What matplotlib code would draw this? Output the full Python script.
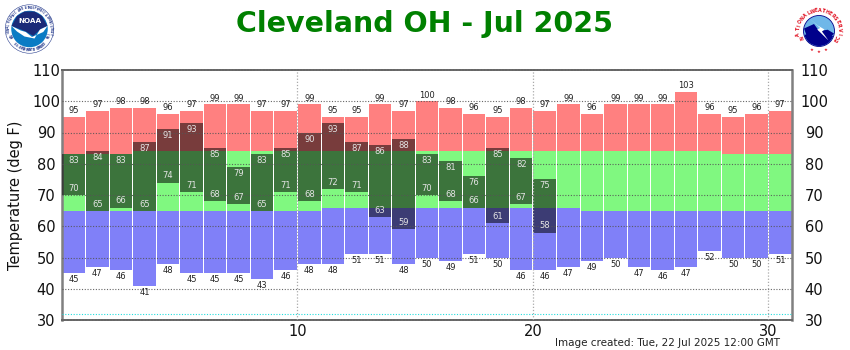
import numpy as np
import matplotlib
matplotlib.use("Agg")
import matplotlib.pyplot as plt
from matplotlib.patches import Circle, Polygon, Wedge

days = list(range(1, 32))
record_high = [95, 97, 98, 98, 96, 97, 99, 99, 97, 97, 99, 95, 95, 99, 97, 100, 98, 96, 95, 98, 97,
               99, 96, 99, 99, 99, 103, 96, 95, 96, 97]
record_low = [45, 47, 46, 41, 48, 45, 45, 45, 43, 46, 48, 48, 51, 51, 48, 50, 49, 51, 50, 46, 46,
              47, 49, 50, 47, 46, 47, 52, 50, 50, 51]
normal_high = [83, 83, 83, 84, 84, 84, 84, 84, 84, 84, 84, 84, 84, 84, 84, 84, 84, 84, 84, 84, 84,
               84, 84, 84, 84, 84, 84, 84, 83, 83, 83]
normal_low = [65, 65, 65, 65, 65, 65, 65, 65, 65, 65, 65, 66, 66, 66, 66, 66, 66, 66, 66, 66, 66,
              66, 65, 65, 65, 65, 65, 65, 65, 65, 65]
actual_high = [83, 84, 83, 87, 91, 93, 85, 79, 83, 85, 90, 93, 87, 86, 88, 83, 81, 76, 85, 82, 75]
actual_low = [70, 65, 66, 65, 74, 71, 68, 67, 65, 71, 68, 72, 71, 63, 59, 70, 68, 66, 61, 67, 58]
y_ticks = [30, 40, 50, 60, 70, 80, 90, 100, 110]
x_ticks = [10, 20, 30]

W, H = 850, 350
fig = plt.figure(figsize=(W / 100, H / 100), dpi=100, facecolor="white")
plt.rcParams["font.family"] = "DejaVu Sans"
ax = fig.add_axes([62 / W, 30 / H, 730 / W, 250 / H])

left = np.array(days) - 1 + 0.02
bw = 0.96
rh, rl = np.array(record_high), np.array(record_low)
nh, nl = np.array(normal_high), np.array(normal_low)

ax.bar(left, rh - nh, bottom=nh, width=bw, align="edge", color="#FF8080", linewidth=0, zorder=2)
ax.bar(left, nh - nl, bottom=nl, width=bw, align="edge", color="#80F880", linewidth=0, zorder=2)
ax.bar(left, nl - rl, bottom=rl, width=bw, align="edge", color="#8080F8", linewidth=0, zorder=2)

n = len(actual_high)
ah, al = np.array(actual_high), np.array(actual_low)
ax.bar(left[:n], ah - al, bottom=al, width=bw, align="edge", color="#000000", alpha=0.53, linewidth=0, zorder=3)

# grid
for y in y_ticks[1:-1]:
    ax.axhline(y, color="#555555", lw=0.8, ls=(0, (1, 1.5)), zorder=4, alpha=0.9)
ax.axhline(32, color="#22DDDD", lw=0.8, ls=(0, (1, 1.5)), zorder=4)
for x in x_ticks:
    ax.axvline(x, color="#AAAAAA", lw=0.9, ls=(0, (1, 1.5)), zorder=4)

# value labels
lab = dict(ha="center", fontsize=6, zorder=6)
for d, v in zip(days, record_high):
    ax.annotate(str(v), (d - 0.5, v), xytext=(0, 1.2), textcoords="offset points", va="bottom", color="#222222", **lab)
for d, v in zip(days, record_low):
    ax.annotate(str(v), (d - 0.5, v), xytext=(0, -1.5), textcoords="offset points", va="top", color="#222222", **lab)
for d, v in zip(days, actual_high):
    ax.annotate(str(v), (d - 0.5, v), xytext=(0, -1.5), textcoords="offset points", va="top", color="#E4E4E4", **lab)
for d, v in zip(days, actual_low):
    ax.annotate(str(v), (d - 0.5, v), xytext=(0, 1.5), textcoords="offset points", va="bottom", color="#E4E4E4", **lab)

ax.set_xlim(0, 31)
ax.set_ylim(30, 110)
ax.set_xticks(x_ticks)
ax.set_yticks(y_ticks)
ax.tick_params(axis="y", length=0, labelsize=10.5, pad=11.5, labelcolor="#111111",
               left=False, right=False, labelleft=True, labelright=True)
ax.tick_params(axis="x", length=0, labelsize=10.5, pad=3, labelcolor="#111111")
for t in ax.yaxis.get_major_ticks():
    t.label1.set_ha("center")
    t.label2.set_ha("center")
    t.label2.set_x(1 + 6 / 730)
ax.set_ylabel("Temperature (deg F)", fontsize=10.5, color="#111111")
ax.yaxis.set_label_coords(-(62 - 23) / 730, 0.5)

ax.spines["left"].set(color="#808080", linewidth=1.8)
ax.spines["right"].set(color="#808080", linewidth=1.8)
ax.spines["top"].set(color="#666666", linewidth=1.4, linestyle=(0, (1, 0.6)))
ax.spines["bottom"].set(color="#666666", linewidth=1.4, linestyle=(0, (1, 0.6)))

fig.text(424 / W, 1 - 24 / H, "Cleveland OH - Jul 2025", color="#008000", fontsize=20.5,
         fontweight="bold", ha="center", va="center")
fig.text(780 / W, 1 - 342.5 / H, "Image created: Tue, 22 Jul 2025 12:00 GMT", color="#222222",
         fontsize=7.5, ha="right", va="center")


def ring_text(a, text, r, start, end, color, size):
    for ch, ang in zip(text, np.linspace(start, end, len(text))):
        a.text(r * np.cos(np.radians(ang)), r * np.sin(np.radians(ang)), ch, fontsize=size,
               color=color, ha="center", va="center", rotation=ang - 90 if np.sin(np.radians(ang)) > -0.2 else ang + 90,
               fontweight="bold")


def logo_axes(cx, cy, r):
    a = fig.add_axes([(cx - r) / W, 1 - (cy + r) / H, 2 * r / W, 2 * r / H])
    a.set_xlim(-1, 1)
    a.set_ylim(-1, 1)
    a.axis("off")
    return a


# NOAA emblem
a = logo_axes(29.5, 29, 25)
a.add_patch(Circle((0, 0), 0.97, fc="white", ec="#2A3F8F", lw=0.4))
a.add_patch(Circle((0, 0), 0.73, fc="#0A7BC4", ec="none"))
a.add_patch(Polygon([(-0.72, 0.12), (-0.5, 0.52), (-0.2, 0.7), (0.2, 0.7), (0.5, 0.52), (0.72, 0.12),
                     (0.45, 0.0), (0.15, -0.28), (-0.15, -0.1), (-0.4, 0.0)], fc="#1A2A78", ec="none"))
a.add_patch(Polygon([(-0.72, 0.12), (-0.35, -0.06), (-0.15, -0.12), (0.1, -0.32), (0.55, -0.12),
                     (0.72, 0.12), (0.42, -0.02), (0.2, -0.38), (-0.2, -0.3), (-0.5, -0.1)], fc="white", ec="none"))
a.text(0, 0.33, "NOAA", color="white", fontsize=5.2, fontweight="bold", ha="center", va="center")
ring_text(a, "NATIONAL OCEANIC AND ATMOSPHERIC ADMINISTRATION", 0.85, 205, -25, "#2A3F8F", 1.9)
ring_text(a, "U.S. DEPARTMENT OF COMMERCE", 0.85, 225, 315, "#2A3F8F", 1.9)

# NWS emblem
b = logo_axes(819, 31, 25)
b.add_patch(Circle((0, 0), 0.62, fc="#6FB7E8", ec="#00008B", lw=0.6))
b.add_patch(Wedge((0, 0), 0.6, 195, 340, fc="#00008B", ec="none"))
b.add_patch(Polygon([(-0.6, 0.1), (-0.2, 0.28), (0.0, 0.0), (0.35, 0.05), (0.6, -0.1), (0.3, -0.45), (-0.4, -0.45)],
                    fc="#00008B", ec="none"))
b.add_patch(Polygon([(-0.38, 0.5), (0.05, 0.12), (-0.07, 0.06), (0.38, -0.38), (0.12, -0.02), (0.22, 0.06), (-0.05, 0.22)],
                    fc="white", ec="none"))
ring_text(b, "NATIONAL", 0.82, 200, 118, "#E01020", 3.4)
ring_text(b, "WEATHER", 0.82, 108, 48, "#E01020", 3.4)
ring_text(b, "SERVICE", 0.82, 38, -30, "#E01020", 3.4)
for ang in (250, 270, 290):
    b.text(0.82 * np.cos(np.radians(ang)), 0.82 * np.sin(np.radians(ang)), "★", color="#E01020",
           fontsize=3.2, ha="center", va="center")

fig.savefig("out.png", dpi=100, facecolor="white")
